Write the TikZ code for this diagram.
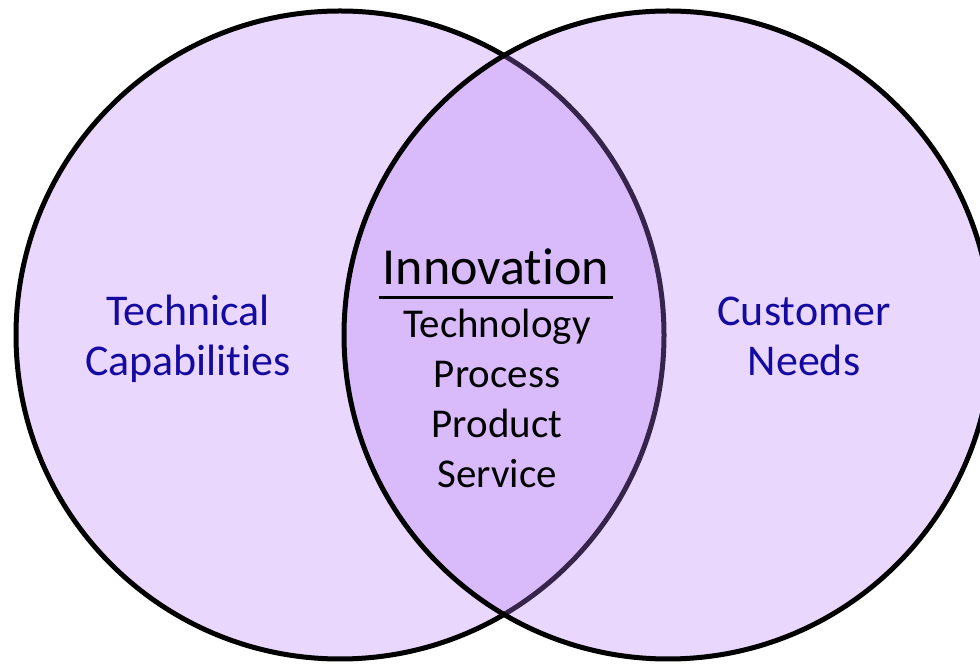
\documentclass[tikz,border=0pt]{standalone}
\usepackage{fontspec}
\setmainfont[Ligatures={NoCommon}]{Carlito}
\usepackage{tikz}
\definecolor{vennfill}{RGB}{182,122,250}
\definecolor{labelblue}{RGB}{20,10,160}
\tikzset{
  venn/.style={draw=black, line width=0.1cm, fill=vennfill, fill opacity=0.3, draw opacity=1},
  sidelabel/.style={text=labelblue, align=center, font=\fontsize{25}{28.45}\selectfont},
}

\begin{document}
\begin{tikzpicture}
    \useasboundingbox (0,0) rectangle (19.6,13.28);
    \draw[venn] (6.8,6.58) circle (6.48); % Technical side
    \draw[venn] (13.36,6.58) circle (6.48); % Customer side
    \node[sidelabel] (tech) at (3.76,6.5) {Technical\\Capabilities};
    \node[sidelabel] (cust) at (16.08,6.56) {Customer\\Needs};
    \node[font=\fontsize{29.6}{35}\selectfont, inner sep=2pt] (innov) at (9.92,7.95) {Innovation}; % Overlap title
    \draw[line width=0.06cm] ([yshift=-0.18cm]innov.south west) -- ([yshift=-0.18cm]innov.south east);
    \node[align=center, font=\fontsize{23.3}{28.45}\selectfont] (kinds) at (9.94,5.31) {Technology\\Process\\Product\\Service};
\end{tikzpicture}
\end{document}
